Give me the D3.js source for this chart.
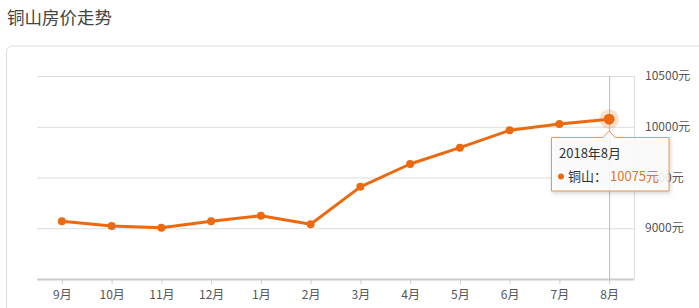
<!DOCTYPE html>
<meta charset="utf-8">
<style>
body{
    margin: 0;
    background: #fff;
    font-family: "Noto Sans CJK SC", "Noto Sans", sans-serif;
}
.grid line { stroke: #ddd; }
.grid path { display: none; }
</style>
<body>
<div id="chart"></div>
<script src="https://cdn.jsdelivr.net/npm/d3@7"></script>
<script>

var months = ["9月","10月","11月","12月","1月","2月","3月","4月","5月","6月","7月","8月"];
var prices = [9069, 9023, 9006, 9069, 9124, 9039, 9408, 9633, 9794, 9965, 10027, 10075];
var yTicks = [9000, 9500, 10000, 10500];
var tipTitle = "2018年8月";
var seriesName = "铜山";

var W = 699, H = 308;
var plotL = 37, plotR = 634, plotT = 76, plotB = 279;
var orange = "#eb6a10";

var svg = d3.select("#chart")
  .append("svg")
    .attr("width", W)
    .attr("height", H);

// title
svg.append("text")
    .attr("x", 7)
    .attr("y", 24)
    .attr("font-size", 17.5)
    .attr("fill", "#444")
    .text("铜山房价走势");

// card outline
svg.append("path")
    .attr("d", "M6.5," + (H + 5) + "V52a6,6 0 0 1 6,-6H" + (W + 5))
    .attr("fill", "none")
    .attr("stroke", "#ddd");

var x = d3.scalePoint()
    .domain(months)
    .range([plotL, plotR])
    .padding(0.5);

var y = d3.scaleLinear()
    .domain([8500, 10500])
    .range([plotB, plotT]);

// horizontal grid
svg.append("g")
    .attr("class", "grid")
    .attr("transform", "translate(" + plotL + ",0)")
    .call(d3.axisRight(y).tickValues(yTicks).tickSize(plotR - plotL).tickFormat(""));

// right border of the plot
svg.append("line")
    .attr("x1", plotR + 0.5).attr("x2", plotR + 0.5)
    .attr("y1", plotT).attr("y2", plotB)
    .attr("stroke", "#ddd");

// y labels on the right
svg.append("g")
    .selectAll("text")
    .data(yTicks)
    .enter()
    .append("text")
      .attr("x", 645)
      .attr("y", function(d) { return y(d); })
      .attr("dy", "0.35em")
      .attr("font-size", 12)
      .attr("fill", "#555")
      .text(function(d) { return d + "元"; });

// x axis
var xAxis = svg.append("g")
    .attr("transform", "translate(0," + plotB + ")")
    .call(d3.axisBottom(x).tickSize(5).tickPadding(6));
xAxis.select(".domain")
    .attr("d", "M" + plotL + ",0.5H" + plotR)
    .attr("stroke", "#ccc")
    .attr("stroke-width", 2);
xAxis.selectAll(".tick line").attr("stroke", "#ccc");
xAxis.selectAll(".tick text")
    .attr("font-size", 12)
    .attr("fill", "#555")
    .attr("font-family", "\"Noto Sans CJK SC\", sans-serif");

// crosshair on last month
var last = months.length - 1;
svg.append("line")
    .attr("x1", x(months[last]) + 0.5).attr("x2", x(months[last]) + 0.5)
    .attr("y1", plotT).attr("y2", plotB)
    .attr("stroke", "#bbb");

// line
var line = d3.line()
    .x(function(d, i) { return x(months[i]); })
    .y(function(d) { return y(d); });

svg.append("path")
    .datum(prices)
    .attr("d", line)
    .attr("fill", "none")
    .attr("stroke", orange)
    .attr("stroke-width", 3)
    .attr("stroke-linejoin", "round");

svg.selectAll("circle.pt")
    .data(prices)
    .enter()
    .append("circle")
      .attr("class", "pt")
      .attr("cx", function(d, i) { return x(months[i]); })
      .attr("cy", function(d) { return y(d); })
      .attr("r", function(d, i) { return i === last ? 5.5 : 4; })
      .attr("fill", orange);

svg.append("circle")
    .attr("cx", x(months[last]))
    .attr("cy", y(prices[last]))
    .attr("r", 10)
    .attr("fill", orange)
    .attr("opacity", 0.2);

// tooltip
var tx = x(months[last]);
var bx = 551, by = 137, bw = 118, bh = 54;
var tip = svg.append("g");
tip.append("path")
    .attr("d", "M" + (bx + 0.5) + "," + (by + 0.5) +
               "H" + (tx - 6) + "L" + tx + "," + (by - 6) + "L" + (tx + 6) + "," + (by + 0.5) +
               "H" + (bx + bw) + "V" + (by + bh) + "H" + (bx + 0.5) + "Z")
    .attr("fill", "rgba(255,255,255,0.88)")
    .attr("stroke", "#e59a55")
    .attr("stroke-width", 1)
    .style("filter", "drop-shadow(1px 2px 2px rgba(0,0,0,0.18))");
tip.append("text")
    .attr("x", bx + 8)
    .attr("y", by + 16)
    .attr("dy", "0.35em")
    .attr("font-size", 13)
    .attr("fill", "#333")
    .text(tipTitle);
tip.append("circle")
    .attr("cx", bx + 10)
    .attr("cy", by + 39.5)
    .attr("r", 3)
    .attr("fill", orange);
tip.append("text")
    .attr("x", bx + 17)
    .attr("y", by + 39)
    .attr("dy", "0.35em")
    .attr("font-size", 13)
    .attr("fill", "#333")
    .text(seriesName + "：");
tip.append("text")
    .attr("x", bx + 59)
    .attr("y", by + 39)
    .attr("dy", "0.35em")
    .attr("font-size", 13)
    .attr("fill", "#e0781e")
    .text(prices[last] + "元");

</script>
</body>
